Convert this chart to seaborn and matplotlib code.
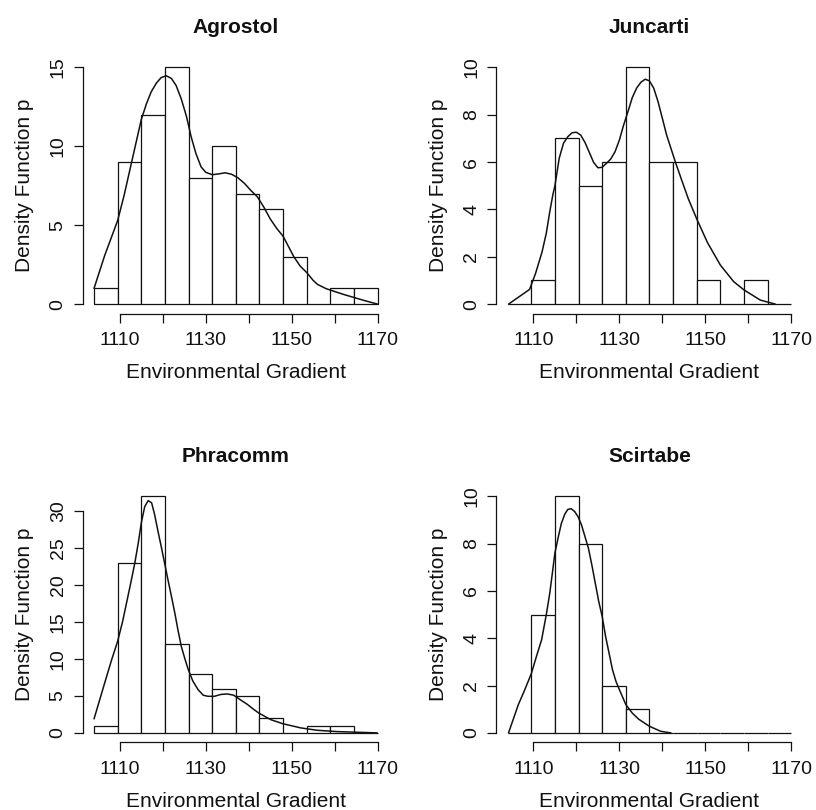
import numpy as np
import pandas as pd
import matplotlib
matplotlib.use("Agg")
import matplotlib.pyplot as plt
import seaborn as sns

# ---------------- data ----------------
species = ["Agrostol", "Juncarti", "Phracomm", "Scirtabe"]
bin_edges = [1104.0, 1109.5, 1115.0, 1120.5, 1126.0, 1131.5, 1137.0,
             1142.5, 1148.0, 1153.5, 1159.0, 1164.5, 1170.0]

counts_agrostol = [1, 9, 12, 15, 8, 10, 7, 6, 3, 0, 1, 1]
counts_juncarti = [0, 1, 7, 5, 6, 10, 6, 6, 1, 0, 1, 0]
counts_phracomm = [1, 23, 32, 12, 8, 6, 5, 2, 0, 1, 1, 0]
counts_scirtabe = [0, 5, 10, 8, 2, 1, 0, 0, 0, 0, 0, 0]

curve_x_agrostol = [1104.0, 1106.5, 1109.5, 1111.0, 1112.5, 1114.0, 1115.0, 1116.2,
                    1117.3, 1118.5, 1119.6, 1120.8, 1122.0, 1123.1, 1124.3, 1125.5,
                    1126.6, 1127.7, 1128.9, 1130.0, 1131.5, 1133.0, 1134.5, 1136.0,
                    1137.5, 1139.0, 1140.5, 1142.0, 1143.5, 1145.0, 1146.5, 1148.0,
                    1150.5, 1152.0, 1153.5, 1155.0, 1156.0, 1158.0, 1160.0, 1162.0,
                    1164.5, 1167.0, 1170.0]
curve_y_agrostol = [1.0, 3.1, 5.3, 6.9, 8.7, 10.5, 11.7, 12.7,
                    13.45, 14.0, 14.35, 14.47, 14.3, 13.85, 13.0, 11.9,
                    10.6, 9.55, 8.7, 8.35, 8.2, 8.25, 8.32, 8.23,
                    8.0, 7.65, 7.2, 6.8, 6.15, 5.4, 4.8, 4.3,
                    3.0, 2.4, 2.0, 1.5, 1.25, 0.98, 0.8, 0.62,
                    0.42, 0.22, 0.0]

curve_x_juncarti = [1104.2, 1109.1, 1110.5, 1112.0, 1113.0, 1113.8, 1114.5, 1115.0,
                    1116.0, 1117.0, 1118.0, 1119.0, 1120.0, 1121.0, 1122.0, 1123.0,
                    1124.0, 1125.0, 1126.0, 1127.0, 1128.0, 1129.0, 1130.0, 1131.0,
                    1132.0, 1133.0, 1134.0, 1135.0, 1136.0, 1137.0, 1138.0, 1139.0,
                    1140.0, 1141.0, 1142.0, 1143.0, 1144.5, 1146.0, 1148.0, 1150.5,
                    1153.5, 1156.6, 1159.0, 1162.8, 1166.3]
curve_y_juncarti = [0.0, 0.62, 1.3, 2.2, 3.0, 3.9, 4.6, 5.0,
                    6.16, 6.8, 7.07, 7.24, 7.26, 7.14, 6.83, 6.41,
                    5.99, 5.76, 5.78, 5.95, 6.13, 6.44, 6.93, 7.57,
                    8.13, 8.72, 9.12, 9.37, 9.5, 9.43, 9.12, 8.55,
                    7.85, 7.14, 6.58, 6.02, 5.24, 4.47, 3.6, 2.6,
                    1.65, 0.95, 0.6, 0.17, 0.0]

curve_x_phracomm = [1104.0, 1106.5, 1108.1, 1109.5, 1110.7, 1111.9, 1112.7, 1113.5,
                    1114.3, 1115.0, 1115.8, 1116.6, 1117.4, 1118.1, 1118.9, 1119.7,
                    1120.4, 1121.2, 1122.0, 1122.8, 1123.5, 1124.3, 1125.1, 1125.9,
                    1127.0, 1128.2, 1129.4, 1130.5, 1132.0, 1133.5, 1135.0, 1136.5,
                    1138.0, 1139.7, 1141.0, 1142.3, 1145.1, 1147.9, 1152.1, 1155.9,
                    1160.6, 1167.5, 1169.9]
curve_y_phracomm = [1.9, 6.8, 9.9, 12.4, 15.2, 18.5, 20.7, 23.0,
                    25.7, 28.4, 30.6, 31.4, 31.1, 29.5, 27.2, 25.0,
                    23.0, 20.7, 18.5, 16.2, 14.0, 11.7, 10.1, 8.6,
                    7.0, 5.86, 5.1, 4.95, 4.95, 5.2, 5.27, 5.1,
                    4.5, 3.85, 3.25, 2.7, 1.8, 1.25, 0.68, 0.36,
                    0.18, 0.05, 0.0]

curve_x_scirtabe = [1104.2, 1106.5, 1108.0, 1109.5, 1110.7, 1111.9, 1113.0, 1113.8,
                    1114.4, 1115.0, 1115.8, 1116.5, 1117.3, 1118.0, 1118.8, 1119.6,
                    1120.4, 1121.2, 1122.0, 1122.8, 1123.6, 1124.4, 1125.2, 1126.0,
                    1126.8, 1127.6, 1128.4, 1129.2, 1130.0, 1131.5, 1133.0, 1134.5,
                    1137.0, 1139.6, 1142.0]
curve_y_scirtabe = [0.0, 1.2, 1.83, 2.5, 3.23, 3.93, 5.0, 5.9,
                    6.74, 7.6, 8.29, 8.85, 9.24, 9.44, 9.47, 9.35,
                    9.13, 8.78, 8.29, 7.8, 7.09, 6.32, 5.55, 4.92,
                    4.07, 3.37, 2.67, 2.18, 1.83, 1.2, 0.84, 0.58,
                    0.28, 0.07, 0.0]

x_ticks = [1110, 1120, 1130, 1140, 1150, 1160, 1170]
x_ticklabels = ["1110", "", "1130", "", "1150", "", "1170"]
y_ticks = {
    "Agrostol": [0, 5, 10, 15],
    "Juncarti": [0, 2, 4, 6, 8, 10],
    "Phracomm": [0, 5, 10, 15, 20, 25, 30],
    "Scirtabe": [0, 2, 4, 6, 8, 10],
}
x_label = "Environmental Gradient"
y_label = "Density Function p"

counts = [counts_agrostol, counts_juncarti, counts_phracomm, counts_scirtabe]
curves = [(curve_x_agrostol, curve_y_agrostol), (curve_x_juncarti, curve_y_juncarti),
          (curve_x_phracomm, curve_y_phracomm), (curve_x_scirtabe, curve_y_scirtabe)]

# ---------------- style ----------------
sns.set_style("white")
plt.rcParams["font.family"] = ["Liberation Sans", "DejaVu Sans"]

fig = plt.figure(figsize=(8.16, 8.10), dpi=100)
W, H = 816, 810
lefts = [82.7, 496.3]
tops = [57.9, 486.7]
aw, ah = 306.3, 255.7

edges = np.array(bin_edges)
centers = (edges[:-1] + edges[1:]) / 2
ink = "#111111"

for i, name in enumerate(species):
    r, c = divmod(i, 2)
    ax = fig.add_axes([lefts[c] / W, 1 - (tops[r] + ah) / H, aw / W, ah / H])
    df = pd.DataFrame({"x": centers, "w": counts[i]})
    sns.histplot(data=df, x="x", weights="w", bins=bin_edges, stat="count",
                 ax=ax, color="white", edgecolor=ink, linewidth=0.9, alpha=1)
    cdf = pd.DataFrame({"x": curves[i][0], "y": curves[i][1]})
    sns.lineplot(data=cdf, x="x", y="y", ax=ax, color=ink, linewidth=1.1,
                 sort=False, estimator=None)

    span = edges[-1] - edges[0]
    ax.set_xlim(edges[0] - 0.04 * span, edges[-1] + 0.04 * span)
    ymax = max(counts[i])
    ax.set_ylim(-0.04 * ymax, 1.04 * ymax)

    ax.set_xticks(x_ticks)
    ax.set_xticklabels(x_ticklabels)
    ax.set_yticks(y_ticks[name])
    ax.set_yticklabels([str(v) for v in y_ticks[name]], rotation=90, va="center")

    for s in ["top", "right"]:
        ax.spines[s].set_visible(False)
    ax.spines["left"].set_bounds(y_ticks[name][0], y_ticks[name][-1])
    ax.spines["bottom"].set_bounds(x_ticks[0], x_ticks[-1])
    for s in ["left", "bottom"]:
        ax.spines[s].set_color(ink)
        ax.spines[s].set_linewidth(0.9)

    ax.tick_params(axis="both", direction="out", length=6.5, width=0.9,
                   colors=ink, labelsize=14, bottom=True, left=True)
    ax.tick_params(axis="x", pad=7)
    ax.tick_params(axis="y", pad=5)

    ax.set_xlabel(x_label, fontsize=15, labelpad=10, color=ink)
    ax.set_ylabel(y_label, fontsize=15, labelpad=11, color=ink)
    ax.set_title(name, fontsize=15, fontweight="bold", pad=18, color=ink)
    ax.grid(False)

fig.savefig("out.png", dpi=100, facecolor="white")
